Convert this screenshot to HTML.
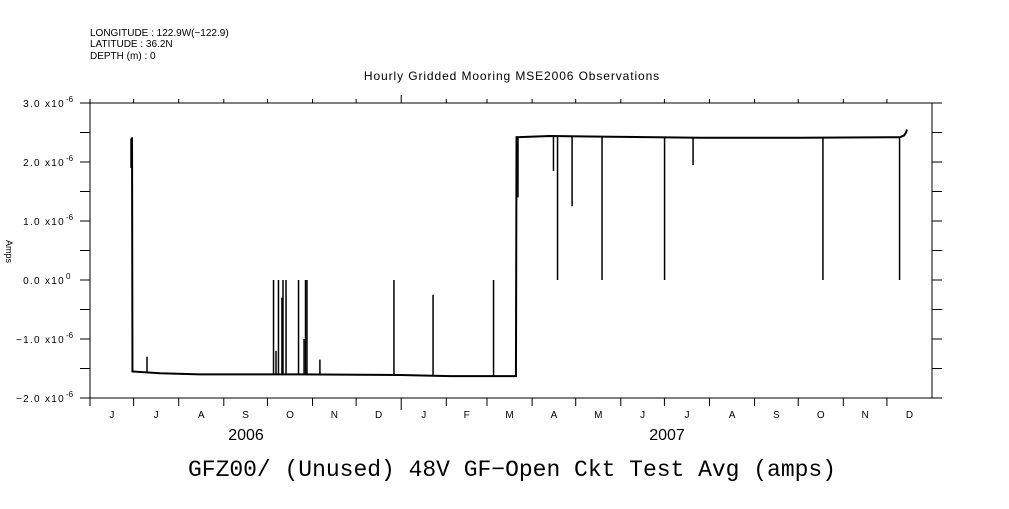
<!DOCTYPE html>
<html><head><meta charset="utf-8"><style>
body{margin:0;background:#fff;width:1009px;height:504px;overflow:hidden}
svg text{font-family:"Liberation Sans",sans-serif;fill:#000}
</style></head><body>
<svg id="chart" width="1009" height="504" viewBox="0 0 1009 504" xmlns="http://www.w3.org/2000/svg">
<g font-size="10">
<text x="90" y="36">LONGITUDE : 122.9W(−122.9)</text>
<text x="90" y="47">LATITUDE : 36.2N</text>
<text x="90" y="59">DEPTH (m) : 0</text>
</g>
<text x="512" y="80" font-size="12" letter-spacing="0.9" text-anchor="middle">Hourly Gridded Mooring MSE2006 Observations</text>
<text x="512" y="476" font-size="23" text-anchor="middle" style="font-family:'Liberation Mono',monospace" textLength="648">GFZ00/ (Unused) 48V GF−Open Ckt Test Avg (amps)</text>
<text x="6" y="240" font-size="9" transform="rotate(90 6 240)">Amps</text>
<g id="axes"></g>
<g id="series"></g>
</svg>
<script>
// days since 2006-06-01
const baseDays=[28.2,28.9,29.2,48.1,75.6,144.4,213.2,247.6,292.9,293.3,316.3,350.7,419.5,488.2,557,559.8,561.1,561.8];
const baseVals=[2.4,2.4,-1.55,-1.58,-1.6,-1.6,-1.61,-1.63,-1.63,2.42,2.44,2.43,2.41,2.41,2.42,2.45,2.5,2.55];
const spikeDays=[28.2,39.2,126.2,127.9,129.6,132,132.7,134.8,143.4,147.2,148.2,149.2,158.1,209,235.9,277.5,294.3,318.7,321.5,331.5,352.1,395.1,414.7,504,556.7];
const spikeVals=[1.9,-1.3,0,-1.2,0,-0.3,0,0,0,-1.0,0,0,-1.35,0,-0.25,0,1.4,1.85,0,1.25,0,0,1.95,0,0];
const monthLabels=["J","J","A","S","O","N","D","J","F","M","A","M","J","J","A","S","O","N","D"];
const monthDays=[30,31,31,30,31,30,31,31,28,31,30,31,30,31,31,30,31,30,31];
const yearLabels=["2006","2007"];
const yTicks=[3,2,1,0,-1,-2];
const yTickLabels=["3.0 x10","2.0 x10","1.0 x10","0.0 x10","−1.0 x10","−2.0 x10"];
const yTickExp=["-6","-6","-6","0","-6","-6"];
const X0=90,X1=932,Y0=103,Y1=398,TOTAL=579;
const xs=d=>X0+d*(X1-X0)/TOTAL;
const ys=v=>Y1-(v+2)*(Y1-Y0)/5;
const NS="http://www.w3.org/2000/svg";
function mk(tag,attrs,parent){const e=document.createElementNS(NS,tag);for(const k in attrs)e.setAttribute(k,attrs[k]);parent.appendChild(e);return e;}
const ax=document.getElementById('axes'),se=document.getElementById('series');
let f=mk('rect',{x:X0,y:Y0,width:X1-X0,height:Y1-Y0,fill:'none',stroke:'#000','stroke-width':1},ax);


for(let v=-2;v<=3.001;v+=0.5){const y=ys(v);
 let t=mk('line',{x1:X0-10,x2:X0,y1:y,y2:y,stroke:'#000'},ax);
 
 
 let r=mk('line',{x1:X1,x2:X1+10,y1:y,y2:y,stroke:'#000'},ax);
 
 }
yTicks.forEach((v,i)=>{const y=ys(v);
 let t=mk('text',{x:X0-25,y:y+4,'font-size':10,'letter-spacing':1.3,'text-anchor':'end'},ax);t.textContent=yTickLabels[i];
 
 
 let s=mk('text',{x:X0-24,y:y-1,'font-size':8},ax);s.textContent=yTickExp[i];
 
 });
let d=0;
monthDays.forEach((n,i)=>{const x=xs(d);const yr=(i===7);
 let t=mk('line',{x1:x,x2:x,y1:Y1,y2:Y1+(yr?12:8),stroke:'#000'},ax);
 
 
 let u=mk('line',{x1:x,x2:x,y1:Y0,y2:Y0-(yr?8:4),stroke:'#000'},ax);
 
 
 let l=mk('text',{x:xs(d+n/2),y:Y1+20,'font-size':10,'text-anchor':'middle'},ax);l.textContent=monthLabels[i];
 
 
 d+=n;});
[246,667].forEach((x,i)=>{
 let t=mk('text',{x:x,y:440,'font-size':16,'text-anchor':'middle'},ax);
 t.textContent=yearLabels[i];
 
 });
let p=mk('polyline',{points:baseDays.map((dd,i)=>xs(dd)+','+ys(baseVals[i])).join(' '),fill:'none',stroke:'#000','stroke-width':2},se);


spikeDays.forEach((dd,i)=>{
 let b=baseVals[0],k;
 for(k=0;k<baseDays.length-1;k++){if(dd>=baseDays[k]&&dd<=baseDays[k+1]){const t=(dd-baseDays[k])/(baseDays[k+1]-baseDays[k]||1);b=baseVals[k]+t*(baseVals[k+1]-baseVals[k]);break;}}
 let l=mk('line',{x1:xs(dd),x2:xs(dd),y1:ys(b),y2:ys(spikeVals[i]),stroke:'#000','stroke-width':1.5},se);
 
 });
</script>
</body></html>
